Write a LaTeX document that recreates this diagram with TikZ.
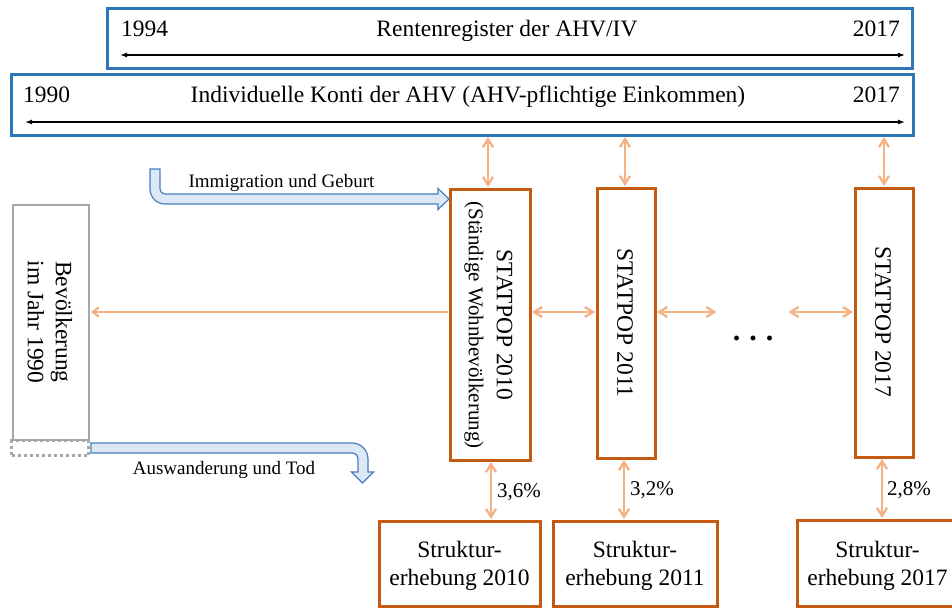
\documentclass[tikz,border=0pt]{standalone}
\usepackage{fontspec}
\setmainfont{Liberation Serif}
\usetikzlibrary{arrows.meta}
\definecolor{bblue}{HTML}{2E75B6}
\definecolor{oborder}{HTML}{C55A11}
\definecolor{oarrow}{HTML}{F4B183}
\definecolor{gborder}{HTML}{A6A6A6}
\definecolor{bafill}{HTML}{DCE8F5}
\definecolor{badraw}{HTML}{4A7EBB}
\begin{document}
\begin{tikzpicture}[x=1pt,y=-1pt,
  bluebox/.style={draw=bblue, line width=3pt, inner sep=0pt, minimum height=60pt},
  obox/.style={draw=oborder, line width=3pt, inner sep=0pt, align=center, font=\fontsize{23.5}{28}\selectfont},
  gbox/.style={draw=gborder, line width=2.7pt, inner sep=0pt},
  lbl/.style={inner sep=0pt, font=\fontsize{23.5}{28}\selectfont},
  slbl/.style={inner sep=0pt, font=\fontsize{19}{23}\selectfont},
  plbl/.style={inner sep=0pt, font=\fontsize{21}{25}\selectfont},
  blk/.style={draw=black, line width=1.3pt, {Latex[length=7pt,width=5pt]}-{Latex[length=7pt,width=5pt]}},
  oar/.style={draw=oarrow, line width=2.3pt, shorten >=0.5pt, shorten <=0.5pt},
  obar/.style={oar, {Straight Barb[length=8pt,width=10pt]}-{Straight Barb[length=8pt,width=10pt]}},
  blockar/.style={fill=bafill, draw=badraw, line width=1.2pt, line join=miter}
]
\clip (0,0) rectangle (952,608);

% top register boxes
\node[bluebox, minimum width=805pt] (renten) at (509.5,38) {};
\node[bluebox, minimum width=902pt, minimum height=61pt] (konti) at (462,104.5) {};
\node[lbl, anchor=base west] (y94) at (121,36) {1994};
\node[lbl, anchor=base] (rt) at (507,36) {Rentenregister der AHV/IV};
\node[lbl, anchor=base east] (y17a) at (900,36) {2017};
\coordinate (ra) at (120,55);
\coordinate (rb) at (905,55);
\draw[blk] (ra) -- (rb);
\node[lbl, anchor=base west] (y90) at (23,102) {1990};
\node[lbl, anchor=base] (kt) at (468,102) {Individuelle Konti der AHV (AHV-pflichtige Einkommen)};
\node[lbl, anchor=base east] (y17b) at (900,102) {2017};
\coordinate (ka) at (25,122);
\coordinate (kb) at (905,122);
\draw[blk] (ka) -- (kb);

% STATPOP boxes
\node[obox, minimum width=80pt, minimum height=271pt] (s10) at (490,324.5) {};
\node[lbl, rotate=-90, align=center] (s10t) at (488.5,325) {STATPOP 2010\\{\fontsize{21}{25}\selectfont (Ständige Wohnbevölkerung)}};
\node[obox, minimum width=58pt, minimum height=270pt] (s11) at (626,323) {};
\node[lbl, rotate=-90] (s11t) at (625,323) {STATPOP 2011};
\node[obox, minimum width=58pt, minimum height=269pt] (s17) at (884,322.5) {};
\node[lbl, rotate=-90] (s17t) at (883,322) {STATPOP 2017};

% Strukturerhebung boxes
\node[obox, text depth=0pt, minimum width=161pt, minimum height=85pt] (st10) at (459.5,563.5) {Struktur-\\erhebung 2010};
\node[obox, text depth=0pt, minimum width=164pt, minimum height=85pt] (st11) at (635,563.5) {Struktur-\\erhebung 2011};
\node[obox, text depth=0pt, minimum width=161pt, minimum height=86pt] (st17) at (877.5,563) {Struktur-\\erhebung 2017};

% population 1990
\node[gbox, minimum width=76pt, minimum height=235pt] (bev) at (51,322.5) {};
\node[lbl, rotate=-90, align=center] (bevt) at (50,322) {Bevölkerung\\im Jahr 1990};
\node[gbox, dash pattern=on 3pt off 3pt, minimum width=77pt, minimum height=15pt] (bevd) at (50,448) {};

% horizontal connectors
\coordinate (hy) at (0,312);
\draw[oar, -{Straight Barb[length=6pt,width=9pt]}] (s10.west |- hy) -- (bev.east |- hy);
\draw[obar] (s10.east |- hy) -- (s11.west |- hy);
\coordinate (d1) at (717,312);
\coordinate (d2) at (788,312);
\draw[obar] (s11.east |- hy) -- (d1);
\draw[obar] (d2) -- (s17.west |- hy);
\node[inner sep=0pt, font=\fontsize{30}{30}\selectfont\bfseries, anchor=base] (dots) at (753,340) {.\hspace{9pt}.\hspace{9pt}.};

% vertical connectors to registers
\draw[obar] ([xshift=-2pt]s10.north) -- ([xshift=-2pt]s10.north |- konti.south);
\draw[obar] ([xshift=-1pt]s11.north) -- ([xshift=-1pt]s11.north |- konti.south);
\draw[obar] (s17.north) -- (s17.north |- konti.south);

% vertical connectors to Strukturerhebung
\draw[obar] ([xshift=1pt]s10.south) -- ([xshift=1pt]s10.south |- st10.north);
\draw[obar] ([xshift=-2pt]s11.south) -- ([xshift=-2pt]s11.south |- st11.north);
\draw[obar] ([xshift=-2pt]s17.south) -- ([xshift=-2pt]s17.south |- st17.north);
\node[plbl, anchor=base west] (p10) at (497,497) {3,6\%};
\node[plbl, anchor=base west] (p11) at (630,495) {3,2\%};
\node[plbl, anchor=base west] (p17) at (887,495) {2,8\%};

% block arrows
\path[blockar] (150,169) -- (150,189) .. controls (150,197.3) and (156.7,204) .. (165,204)
  -- (438,204) -- (438,209.5) -- (449,199) -- (438,188.5) -- (438,194)
  -- (165,194) .. controls (162.2,194) and (160,191.8) .. (160,189) -- (160,169) -- cycle;
\node[slbl, anchor=base] (imm) at (281.5,187) {Immigration und Geburt};
\path[blockar] (91,443) -- (352,443) .. controls (360.8,443) and (368,450.2) .. (368,459)
  -- (368,472) -- (373.5,472) -- (362.5,483) -- (351.5,472) -- (358,472) -- (358,459)
  .. controls (358,455.7) and (355.3,453) .. (352,453) -- (91,453) -- cycle;
\node[slbl, anchor=base] (aus) at (224,474) {Auswanderung und Tod};
\end{tikzpicture}
\end{document}
